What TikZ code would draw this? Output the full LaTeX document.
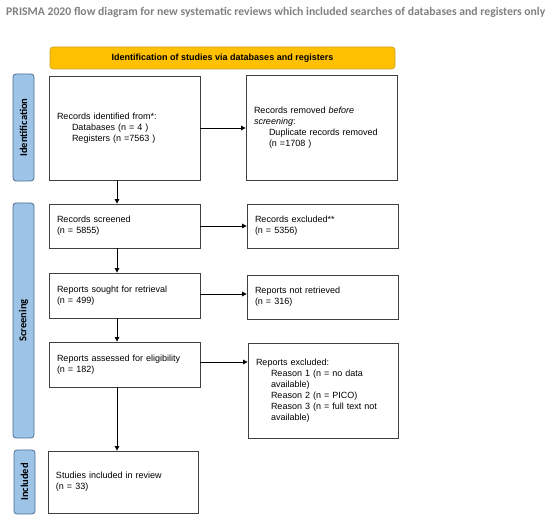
\documentclass[tikz,border=0pt]{standalone}
\usepackage{fontspec}
\setmainfont{Liberation Sans}
\newfontfamily\calibri{Carlito}
\usetikzlibrary{arrows.meta}
\definecolor{prismagold}{HTML}{FFC000}
\definecolor{prismagoldline}{HTML}{C9A227}
\definecolor{phaseblue}{HTML}{9DC3E6}
\definecolor{phaseline}{HTML}{4A6E8E}
\definecolor{boxline}{HTML}{404040}
\definecolor{titlegray}{HTML}{808080}
\begin{document}
\begin{tikzpicture}[x=1pt, y=-1pt,
  flowbox/.style = {shape=rectangle, draw=boxline, line width=0.8pt, align=left,
    font=\fontsize{9}{11}\selectfont, inner xsep=8pt, inner ysep=0pt,
    text width=135pt, minimum width=151pt},
  phasebar/.style = {shape=rectangle, rounded corners=3pt, draw=phaseline, fill=phaseblue,
    line width=0.8pt, minimum width=21pt, inner sep=0pt},
  phaselabel/.style = {rotate=90, font=\calibri\bfseries\fontsize{10.5}{12}\selectfont},
  headbar/.style = {shape=rectangle, rounded corners=3pt, draw=prismagoldline, fill=prismagold,
    line width=0.6pt, minimum width=345pt, minimum height=22pt,
    font=\bfseries\fontsize{9}{11}\selectfont},
  arr/.style = {-{Triangle[length=4.5pt,width=4.5pt]}, line width=0.8pt}]

  \useasboundingbox (0,0) rectangle (550,521);

  \node (title) [anchor=west, text=titlegray, inner sep=0pt,
    font=\calibri\bfseries\fontsize{11.7}{13}\selectfont] at (6,12)
    {PRISMA 2020 flow diagram for new systematic reviews which included searches of databases and registers only};

  \node (head) [headbar] at (222.5,58) {Identification of studies via databases and registers};

  % phases
  \node (identbar) [phasebar, minimum height=107pt] at (23.5,127.5) {};
  \node [phaselabel] at (identbar) {Identification};
  \node (screenbar) [phasebar, minimum height=235pt] at (23.5,320.5) {};
  \node [phaselabel] at (screenbar) {Screening};
  \node (inclbar) [phasebar, minimum height=64pt] at (24.5,482) {};
  \node [phaselabel] at (inclbar) {Included};

  % left column
  \node (identified) [flowbox, minimum height=104pt] at (124.5,128)
    {Records identified from*:\\ \hspace*{15pt}Databases (n = 4 )\\ \hspace*{15pt}Registers (n =7563 )};
  \node (screened) [flowbox, minimum height=44pt] at (124.5,226)
    {Records screened\\(n = 5855)};
  \node (sought) [flowbox, minimum height=45pt] at (124.5,295.5)
    {Reports sought for retrieval\\(n = 499)};
  \node (assessed) [flowbox, minimum height=45pt] at (124.5,364.5)
    {Reports assessed for eligibility\\(n = 182)};
  \node (included) [flowbox, minimum height=62pt, text width=134pt, minimum width=150pt,
    inner xsep=7pt] at (123,482)
    {Studies included in review\\(n = 33)\\[6pt]};

  % right column
  \node (removed) [flowbox, minimum height=105pt] at (321.5,127.5)
    {Records removed \textit{before}\\\textit{screening}:\\ \hspace*{15pt}Duplicate records removed\\ \hspace*{15pt}(n =1708 )\\[12pt]};
  \node (excluded) [flowbox, minimum height=44pt] at (322.5,226)
    {Records excluded**\\(n = 5356)};
  \node (notretrieved) [flowbox, minimum height=44pt] at (322.5,297)
    {Reports not retrieved\\(n = 316)};
  \node (rexcluded) [flowbox, minimum height=95pt, text width=134pt, minimum width=150pt] at (323,390.5)
    {Reports excluded:\\ \hspace*{15pt}Reason 1 (n = no data\\ \hspace*{15pt}available)\\
     \hspace*{15pt}Reason 2 (n = PICO)\\ \hspace*{15pt}Reason 3 (n = full text not\\
     \hspace*{15pt}available)\\[10pt]};

  % connectors
  \draw[arr] (identified.east) -- (identified.east -| removed.west);
  \draw[arr] (screened.east) -- (screened.east -| excluded.west);
  \draw[arr] ([yshift=1.5pt]sought.east) -- ([yshift=1.5pt]sought.east -| notretrieved.west);
  \draw[arr] ([yshift=2.5pt]assessed.east) -- ([yshift=2.5pt]assessed.east -| rexcluded.west);
  \draw[arr] ([xshift=-7.5pt]identified.south) -- ([xshift=-7.5pt]identified.south |- screened.north);
  \draw[arr] ([xshift=-7.5pt]screened.south) -- ([xshift=-7.5pt]screened.south |- sought.north);
  \draw[arr] ([xshift=-7.5pt]sought.south) -- ([xshift=-7.5pt]sought.south |- assessed.north);
  \draw[arr] ([xshift=-7.5pt]assessed.south) -- ([xshift=-7.5pt]assessed.south |- included.north);

\end{tikzpicture}
\end{document}
